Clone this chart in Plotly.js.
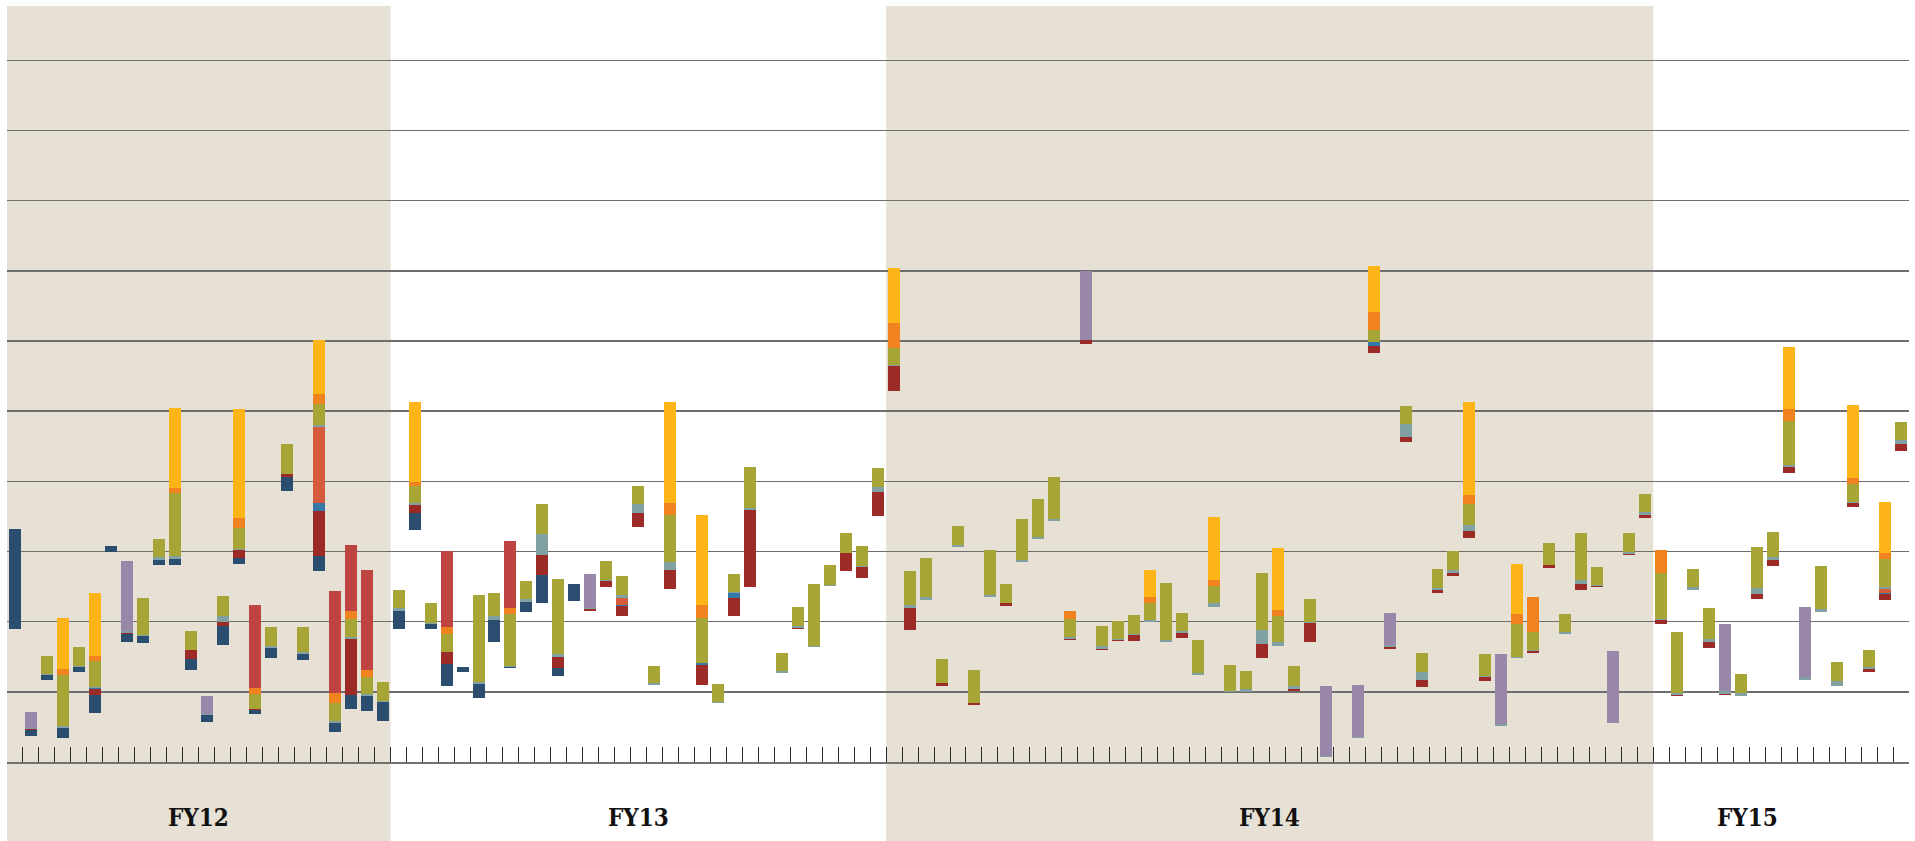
<!DOCTYPE html>
<html>
<head>
<meta charset="utf-8">
<script src="https://cdn.plot.ly/plotly-3.0.1.min.js"></script>
<style>html,body{margin:0;padding:0;background:#fff;}#chart{width:1915px;height:841px;}</style>
</head>
<body>
<div id="chart"></div>
<script>
// Slot (category) index of every bar along the time axis
const slot = [
  0,1,2,3,4,5,6,7,8,9,10,11,12,13,14,15,16,17,18,19,20,21,22,23,24,25,26,27,28,29,30,31,32,33,34,35,36,37,38,39,40,41,43,44,45,46,
  48,49,50,51,52,53,54,55,56,57,58,59,60,61,62,63,64,65,66,67,68,69,70,71,72,73,74,75,76,77,78,79,80,81,82,
  84,85,86,87,88,89,90,91,92,93,94,95,96,97,98,99,100,101,102,103,104,105,106,107,108,109,110,111,112,113,114,115,116,117,118
];

// Floating start value of every bar
const startValue = [
  1.894,0.369,1.167,0.341,1.281,0.697,2.991,1.713,1.694,2.806, 2.806,1.31,0.569,1.666,2.82,0.682,1.481,3.861,1.453,2.72,
  0.426,0.754,0.725,0.583,1.894,3.305,1.894,1.082,1.281,0.911, 1.709,1.338,2.136,2.265,1.224,2.293,2.15,2.492,2.08,3.348,
  1.096,2.464,1.096,0.844,2.08,2.492,
  1.267,1.894,1.642,2.51,2.72,2.621,3.504,5.286,1.88,2.307, 1.082,3.063,0.811,2.35,2.222,2.849,3.177,3.433,1.737,5.956,
  1.595,1.723,1.723,1.994,1.709,1.766,1.238,2.208,0.992,0.992, 1.481,1.652,1.006,1.709,0.07,
  0.341,5.827,1.609,4.559,1.067,2.407,2.649,3.191,1.153,0.512, 1.481,1.552,2.763,1.823,2.45,2.492,0.558,2.949,3.476,1.966,
  0.939,2.45,1.623,0.953,0.939,2.322,2.792,4.117,1.167,2.136, 1.082,3.633,1.281,2.307,4.431
];

// Segment sizes, stacked bottom to top in this order
const navy = [
  1.425,.086,.071,.142,.071,.252,.086,.106,.1,.071, .086,.157,.099,.275,.09,.057,.142,.199,.085,.214,
  .128,.199,.214,.27,.256,.242,.071,.318,.071,.199, .313,.014,.143,.399,.114,.242,0,0,0,0, 0,0,0,0,0,0,
  0,0,0,0,0,0,0,0,0,0, 0,0,0,0,0,0,0,0,0,0, 0,0,0,0,0,0,0,0,0,0, 0,0,0,0,0,
  0,0,0,0,0,0,0,0,0,0, 0,0,0,0,0,0,0,0,0,0, 0,0,0,0,0,0,0,0,0,0, 0,0,0,0,0
];
const darkRed = [
  0,.014,0,0,0,.09,0,.019,0,0, 0,.128,0,.057,.11,.015,0,.043,0,.642,
  0,.798,0,0,0,.114,0,.167,0,0, 0,0,0,.285,.157,0,.029,.085,.142,.199, 0,.271,.285,0,.256,1.098,
  0,.014,0,0,.257,.152,.342,.356,.313,0, .042,0,.024,0,.043,0,0,0,.014,.057, .018,.014,.085,0,0,.072,0,0,0,0, .199,0,.033,.27,0,
  0,.1,.028,.071,.1,.043,.043,.1,.057,0, 0,.033,.043,0,.085,.015,0,.014,.043,.056, .014,0,.086,.019,0,.071,.085,.086,0,0, 0,.057,.039,.09,.1
];
const steel = [
  0,0,0,0,0,.014,0,0,0,0, 0,0,0,0,0,0,0,0,0,.114,
  0,0,0,0,0,0,0,0,0,0, 0,0,0,0,0,0,0,0,.014,0, 0,0,.028,0,.071,0,
  0,0,0,0,0,0,0,0,0,0, 0,0,0,0,0,0,0,0,0,0, 0,0,0,0,0,0,0,0,0,0, 0,0,0,0,0,
  0,.061,0,0,0,0,0,0,0,0, 0,0,0,0,0,0,0,0,0,0, 0,0,0,0,0,0,0,0,0,0, 0,0,0,.014,0
];
const vermilion = [
  0,0,0,0,0,0,0,0,0,0, 0,0,0,0,0,0,0,0,0,1.083,
  0,0,0,0,0,0,0,0,0,0, 0,0,0,0,0,0,0,0,.1,0, 0,0,0,0,0,0,
  0,0,0,0,0,0,0,0,0,0, 0,0,0,0,0,0,0,0,0,0, 0,0,0,0,0,0,0,0,0,0, 0,0,0,0,0,
  0,0,0,0,0,0,0,0,0,0, 0,0,0,0,0,0,0,0,0,0, 0,0,0,0,0,0,0,0,0,0, 0,0,0,.053,0
];
const teal = [
  0,.014,.015,.029,.015,.014,0,.028,.014,.039, .042,0,.019,.086,.014,0,.029,0,.029,.028,
  .029,.029,.029,.015,.048,.024,.014,0,0,.029, .062,.014,.043,.303,.043,0,.014,.015,.043,.128, .028,.114,0,.014,.014,.033,
  .028,.029,.014,.01,0,.019,.067,.01,.039,.039, 0,.024,0,.024,0,.028,.028,.024,.025,0, .039,.01,.015,.028,.028,.028,.025,.052,.018,.047, .2,.061,.043,.019,.014,
  .014,0,.029,.185,.114,.028,.043,.081,.014,.028, .014,.014,0,.028,.057,.01,0,.028,.042,.01, .024,.042,.042,.038,.038,.085,.043,.028,.043,.043, .071,.019,.028,.024,.057
];
const purple = [
  0,.224,0,0,0,0,0,.997,0,0, 0,0,.252,0,0,0,0,0,0,0,
  0,0,0,0,0,0,0,0,0,0, 0,0,0,0,0,0,.485,0,0,0, 0,0,0,0,0,0,
  0,0,0,0,0,0,0,0,0,0, 0,0,0,0,0,0,0,0,0,.987, 0,0,0,0,0,0,0,0,0,0, 0,0,0,0,.998,
  .741,0,.456,0,0,0,0,0,0,.998, 0,0,0,0,0,0,1.022,0,0,0, 0,0,0,.955,0,0,0,0,.998,0, 0,0,0,0,0
];
const olive = [
  0,0,.256,.726,.27,.371,0,0,.528,.261, .894,.271,0,.28,.3,.214,.271,.428,.356,.304,
  .256,.257,.242,.271,.252,.251,.286,.256,0,1.24, .323,.745,.255,.423,1.068,0,0,.271,.27,.257, .243,.67,.642,.252,.257,.58,
  .257,.271,.879,.285,.285,.285,.276,.246,.488,.56, .343,.275,.475,.646,.27,.585,.542,.603,.256,0, .285,.265,.271,.238,.812,.256,.474,.247,.371,.256, .812,.367,.285,.324,0,
  0,.167,0,.257,.271,.271,.271,.303,.314,0, .47,.252,.314,.257,.67,.261,0,.271,.257,.66, .874,.257,.442,0,.276,.585,.356,.627,0,.613, .271,.257,.247,.404,.256
];
const orange = [
  0,0,0,.086,0,.071,0,0,0,0, .075,0,0,0,.142,.085,0,0,0,.138,
  .143,.114,.1,0,0,.053,0,.1,0,0, 0,.081,0,0,0,0,0,0,0,0, 0,.171,.185,0,0,0,
  0,0,0,0,0,0,0,.357,0,0, 0,0,0,0,0,0,0,0,.119,0, 0,0,0,.09,0,0,0,.085,0,0, 0,.085,0,0,0,
  0,.257,0,0,0,0,0,.129,0,0, .143,.499,0,0,0,0,0,0,0,.328, 0,0,0,0,0,0,0,.171,0,0, 0,.081,0,.085,0
];
const yellow = [
  0,0,0,.726,0,.898,0,0,0,0, 1.141,0,0,0,1.553,0,0,0,0,.77,
  0,0,0,0,0,1.141,0,0,0,0, 0,0,0,0,0,0,0,0,0,0, 0,1.44,1.283,0,0,0,
  0,0,0,0,0,0,0,.784,0,0, 0,0,0,0,0,0,0,0,0,0, 0,0,0,.385,0,0,0,.898,0,0, 0,.883,0,0,0,
  0,.656,0,0,0,0,0,1.326,0,0, .712,0,0,0,0,0,0,0,0,0, 0,0,0,0,0,0,0,.884,0,0, 0,1.04,0,.727,0
];
const red = [
  0,0,0,0,0,0,0,0,0,0, 0,0,0,0,0,1.183,0,0,0,0,
  1.454,.94,1.425,0,0,0,0,1.083,0,0, 0,.955,0,0,0,0,0,0,0,0, 0,0,0,0,0,0,
  0,0,0,0,0,0,0,0,0,0, 0,0,0,0,0,0,0,0,0,0, 0,0,0,0,0,0,0,0,0,0, 0,0,0,0,0,
  0,0,0,0,0,0,0,0,0,0, 0,0,0,0,0,0,0,0,0,0, 0,0,0,0,0,0,0,0,0,0, 0,0,0,0,0
];

// Fiscal year periods (slot ranges) and labels
const fyLabels = ['FY12', 'FY13', 'FY14', 'FY15'];
const fyFirstSlot = [0, 24, 55, 103];
const fyLastSlot = [23, 54, 102, 118];
const fyLabelPos = [11.5, 39, 78.5, 108.4];
const fyShaded = [true, false, true, false];

const series = [
  {name: 'navy', y: navy, color: '#2b4e70'},
  {name: 'darkRed', y: darkRed, color: '#9c2b27'},
  {name: 'steel', y: steel, color: '#3479a8'},
  {name: 'vermilion', y: vermilion, color: '#d65a3c'},
  {name: 'teal', y: teal, color: '#80a0a1'},
  {name: 'purple', y: purple, color: '#9887a8'},
  {name: 'olive', y: olive, color: '#a6a536'},
  {name: 'orange', y: orange, color: '#f08220'},
  {name: 'yellow', y: yellow, color: '#fdb416'},
  {name: 'red', y: red, color: '#be4441'}
];

const traces = [{
  type: 'bar', x: slot, y: startValue, width: 0.75,
  marker: {color: 'rgba(0,0,0,0)', line: {width: 0}},
  hoverinfo: 'skip', showlegend: false
}];
series.forEach(s => traces.push({
  type: 'bar', x: slot, y: s.y, width: 0.75, name: s.name,
  marker: {color: s.color, line: {width: 0}},
  hoverinfo: 'skip', showlegend: false
}));

const shapes = [];
const annotations = [];
fyLabels.forEach((lab, i) => {
  if (fyShaded[i]) {
    shapes.push({
      type: 'rect', xref: 'x', yref: 'paper', layer: 'below',
      x0: fyFirstSlot[i] - 0.5, x1: fyLastSlot[i] + 0.5, y0: -0.2, y1: 1,
      fillcolor: '#e6e0d5', line: {width: 0}
    });
  }
  annotations.push({
    text: lab, xref: 'x', yref: 'paper', x: fyLabelPos[i], y: -0.074,
    xanchor: 'center', yanchor: 'middle', showarrow: false,
    font: {family: 'DejaVu Serif Condensed, DejaVu Serif, serif', size: 24, weight: 'bold', color: '#111'}
  });
});

const layout = {
  width: 1915, height: 841,
  margin: {l: 7, r: 6, t: 6, b: 79, pad: 0},
  paper_bgcolor: '#ffffff', plot_bgcolor: 'rgba(0,0,0,0)',
  barmode: 'stack', showlegend: false,
  xaxis: {
    range: [-0.5, 118.5], showgrid: false, zeroline: false,
    showline: true, linecolor: '#707070', linewidth: 2,
    ticks: 'inside', tickmode: 'linear', tick0: -0.5, dtick: 1,
    ticklen: 15, tickwidth: 1, tickcolor: '#2a2a2a', showticklabels: false, fixedrange: true
  },
  yaxis: {
    range: [0, 10.774], showgrid: true, gridcolor: '#6e6e6e', gridwidth: 1.5,
    tickmode: 'linear', tick0: 0, dtick: 1, zeroline: false, showline: false,
    showticklabels: false, ticks: '', fixedrange: true
  },
  shapes: shapes,
  annotations: annotations
};

Plotly.newPlot('chart', traces, layout, {displayModeBar: false, staticPlot: true});
</script>
</body>
</html>
